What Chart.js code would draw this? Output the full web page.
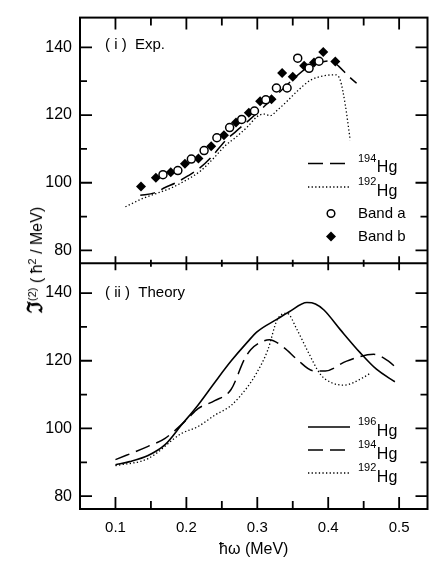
<!DOCTYPE html>
<html>
<head>
<meta charset="utf-8">
<script src="https://cdn.jsdelivr.net/npm/chart.js@4"></script>
<style>
  html, body { margin: 0; padding: 0; background: #fff; }
  #wrap { position: relative; width: 433px; height: 562px; }
  #ytitle {
    position: absolute; left: 34px; top: 260px;
    transform: translate(-50%, -50%) rotate(-90deg);
    white-space: nowrap; font: 16px "Liberation Sans", Arial, sans-serif; color: #000;
  }
  #ytitle .J { font-size: 21px; font-weight: bold; }
  #ytitle sup { font-size: 11px; }
</style>
</head>
<body>
<div id="wrap">
  <canvas id="chart" width="433" height="562"></canvas>
  <div id="ytitle"><span class="J">ℑ</span><sup>(2)</sup> ( ħ<sup>2</sup> / MeV)</div>
</div>
<script>
// ── Data ───────────────────────────────────────────────────────────────
const xTicks = [0.1, 0.2, 0.3, 0.4, 0.5];
const xMinorTicks = [0.15, 0.25, 0.35, 0.45];
const yTicks = [80, 100, 120, 140];
const yMinorTicks = [90, 110, 130];

// (i) Exp.
const expHg194 = [[0.135, 96.3], [0.155, 97.0], [0.17, 98.6], [0.186, 100.1], [0.202, 102.0],
  [0.219, 104.4], [0.237, 108.0], [0.254, 112.2], [0.27, 115.2], [0.29, 118.8], [0.31, 122.6],
  [0.33, 126.5], [0.35, 130.5], [0.37, 134.0], [0.385, 135.4], [0.403, 136.0], [0.415, 134.4],
  [0.427, 131.8], [0.44, 129.4]];
const expHg192 = [[0.114, 92.9], [0.139, 95.4], [0.16, 97.0], [0.18, 98.6], [0.20, 100.8],
  [0.22, 103.5], [0.24, 107.6], [0.254, 110.8], [0.27, 113.5], [0.286, 116.5], [0.30, 119.6],
  [0.31, 120.3], [0.318, 119.8], [0.328, 121.4], [0.342, 124.1], [0.356, 127.0], [0.375, 130.3],
  [0.394, 131.6], [0.41, 131.9], [0.417, 130.3], [0.424, 123.1], [0.431, 112.6]];
const bandA = [[0.167, 102.4], [0.188, 103.6], [0.207, 107.0], [0.225, 109.5], [0.243, 113.3],
  [0.261, 116.3], [0.278, 118.7], [0.296, 121.2], [0.312, 124.5], [0.327, 128.0], [0.342, 128.0],
  [0.357, 136.8], [0.373, 133.8], [0.387, 135.9]];
const bandB = [[0.136, 98.9], [0.157, 101.5], [0.178, 103.1], [0.198, 105.6], [0.217, 107.2],
  [0.235, 110.8], [0.253, 114.0], [0.270, 117.8], [0.288, 120.7], [0.304, 124.1], [0.320, 124.7],
  [0.335, 132.4], [0.350, 131.3], [0.366, 134.6], [0.380, 135.5], [0.393, 138.6], [0.410, 135.8]];

// (ii) Theory
const thHg196 = [[0.1, 89.3], [0.12, 90.2], [0.146, 92.0], [0.17, 95.2], [0.193, 101.0],
  [0.216, 106.8], [0.240, 113.6], [0.263, 119.9], [0.286, 125.5], [0.30, 128.6], [0.328, 132.3],
  [0.345, 134.5], [0.37, 137.2], [0.382, 136.8], [0.394, 135.0], [0.417, 129.2], [0.445, 122.4],
  [0.468, 117.5], [0.494, 113.8]];
const thHg194 = [[0.1, 90.8], [0.146, 94.7], [0.17, 97.1], [0.202, 102.9], [0.216, 105.8],
  [0.240, 108.2], [0.263, 111.5], [0.282, 120.5], [0.291, 123.3], [0.305, 125.5], [0.317, 126.2],
  [0.338, 123.8], [0.356, 120.4], [0.380, 117.0], [0.396, 117.0], [0.426, 119.9], [0.464, 121.9],
  [0.485, 119.9], [0.496, 117.9]];
const thHg192 = [[0.1, 89.0], [0.146, 91.1], [0.193, 98.5], [0.216, 100.5], [0.240, 103.9],
  [0.263, 106.8], [0.286, 112.2], [0.298, 116.0], [0.315, 123.3], [0.328, 132.1], [0.342, 134.0],
  [0.356, 129.2], [0.370, 123.3], [0.389, 116.0], [0.405, 113.5], [0.422, 112.8], [0.450, 115.1],
  [0.459, 116.3]];

const FONT = '"Liberation Sans", Arial, sans-serif';
const pts = arr => arr.map(([x, y]) => ({ x, y }));

const DASH = [15, 7];
const DOT = [1.3, 2.3];

function lineSet(arr, axis, dash, width) {
  return {
    data: pts(arr), yAxisID: axis, borderColor: '#000', borderWidth: width,
    borderDash: dash, pointRadius: 0, fill: false, cubicInterpolationMode: 'monotone',
  };
}

// ── Frame, inward ticks, panel labels, legends ─────────────────────────

function drawSupLabel(ctx, sup, base, x, y) {
  ctx.textAlign = 'left';
  ctx.textBaseline = 'alphabetic';
  ctx.font = '11px ' + FONT;
  ctx.fillText(sup, x, y - 2);
  const w = ctx.measureText(sup).width;
  ctx.font = '16px ' + FONT;
  ctx.fillText(base, x + w + 0.5, y + 8.5);
}

function legendLine(ctx, dash, width, y) {
  ctx.setLineDash(dash);
  ctx.lineWidth = width;
  ctx.beginPath(); ctx.moveTo(308, y); ctx.lineTo(350, y); ctx.stroke();
  ctx.setLineDash([]);
}

const framePlugin = {
  id: 'frame',
  afterDraw(chart) {
    const { ctx, chartArea: a, scales: { x, yTop, yBot } } = chart;
    ctx.save();
    ctx.strokeStyle = '#000';
    ctx.fillStyle = '#000';
    ctx.lineWidth = 2;
    ctx.strokeRect(a.left, a.top, a.right - a.left, a.bottom - a.top);
    const mid = yTop.bottom;
    ctx.beginPath(); ctx.moveTo(a.left, mid); ctx.lineTo(a.right, mid); ctx.stroke();

    ctx.lineWidth = 1.8;
    ctx.beginPath();
    // x ticks: top edge, bottom edge, and crossing the divider
    const xt = (v, len, half) => {
      const px = x.getPixelForValue(v);
      ctx.moveTo(px, a.top); ctx.lineTo(px, a.top + len);
      ctx.moveTo(px, a.bottom); ctx.lineTo(px, a.bottom - len);
      ctx.moveTo(px, mid - half); ctx.lineTo(px, mid + half);
    };
    xTicks.forEach(v => xt(v, 12, 7));
    xMinorTicks.forEach(v => xt(v, 8, 3.5));
    // y ticks on both sides of each panel
    [yTop, yBot].forEach(s => {
      const yt = (v, len) => {
        const py = s.getPixelForValue(v);
        ctx.moveTo(a.left, py); ctx.lineTo(a.left + len, py);
        ctx.moveTo(a.right, py); ctx.lineTo(a.right - len, py);
      };
      yTicks.forEach(v => yt(v, 12));
      yMinorTicks.forEach(v => yt(v, 7));
    });
    ctx.stroke();

    // panel labels
    ctx.font = '15px ' + FONT;
    ctx.textAlign = 'left';
    ctx.textBaseline = 'middle';
    ctx.fillText('( i )  Exp.', 105, 45);
    ctx.fillText('( ii )  Theory', 105, 293);

    // legend, panel (i)
    ctx.lineWidth = 1.5;
    legendLine(ctx, DASH, 1.5, 163.5);
    drawSupLabel(ctx, '194', 'Hg', 358, 163.5);
    legendLine(ctx, DOT, 1.3, 187);
    drawSupLabel(ctx, '192', 'Hg', 358, 187);

    ctx.lineWidth = 1.5;
    ctx.fillStyle = '#fff';
    ctx.beginPath(); ctx.arc(331, 213.5, 3.8, 0, Math.PI * 2); ctx.fill(); ctx.stroke();
    ctx.fillStyle = '#000';
    ctx.beginPath();
    ctx.moveTo(331, 231.5); ctx.lineTo(336, 236.5); ctx.lineTo(331, 241.5); ctx.lineTo(326, 236.5);
    ctx.closePath(); ctx.fill();
    ctx.font = '15px ' + FONT;
    ctx.textBaseline = 'middle';
    ctx.fillText('Band a', 358, 214);
    ctx.fillText('Band b', 358, 237);

    // legend, panel (ii)
    legendLine(ctx, [], 1.6, 427);
    drawSupLabel(ctx, '196', 'Hg', 358, 427);
    legendLine(ctx, DASH, 1.5, 450);
    drawSupLabel(ctx, '194', 'Hg', 358, 450);
    legendLine(ctx, DOT, 1.3, 473);
    drawSupLabel(ctx, '192', 'Hg', 358, 473);

    ctx.restore();
  },
};

// ── Chart ──────────────────────────────────────────────────────────────

const yScale = () => ({
  type: 'linear', position: 'left', stack: 'panels', stackWeight: 1,
  min: 76.2, max: 148.8,
  grid: { display: false, drawTicks: false }, border: { display: false },
  afterBuildTicks: s => { s.ticks = yTicks.map(v => ({ value: v })); },
  afterFit: s => { s.width = 80; },
  ticks: { color: '#000', font: { family: FONT, size: 16 }, padding: 8, callback: v => String(v) },
});

new Chart(document.getElementById('chart'), {
  type: 'line',
  data: {
    datasets: [
      { data: pts(bandA), yAxisID: 'yTop', showLine: false, pointStyle: 'circle', pointRadius: 4,
        pointBorderWidth: 1.5, pointBackgroundColor: '#fff', pointBorderColor: '#000' },
      { data: pts(bandB), yAxisID: 'yTop', showLine: false, pointStyle: 'rectRot', pointRadius: 5,
        pointBorderWidth: 0, pointBackgroundColor: '#000', pointBorderColor: '#000' },
      lineSet(expHg194, 'yTop', DASH, 1.5),
      lineSet(expHg192, 'yTop', DOT, 1.3),
      lineSet(thHg196, 'yBot', [], 1.6),
      lineSet(thHg194, 'yBot', DASH, 1.5),
      lineSet(thHg192, 'yBot', DOT, 1.3),
    ],
  },
  options: {
    responsive: false,
    animation: false,
    events: [],
    layout: { padding: { top: 8, right: 3, left: 0, bottom: 0 } },
    plugins: { legend: { display: false }, tooltip: { enabled: false } },
    scales: {
      x: {
        type: 'linear', min: 0.05, max: 0.54,
        grid: { display: false, drawTicks: false }, border: { display: false },
        afterBuildTicks: s => { s.ticks = xTicks.map(v => ({ value: v })); },
        afterFit: s => { s.height = 53; },
        ticks: { color: '#000', font: { family: FONT, size: 15 }, padding: 10, maxRotation: 0,
                 autoSkip: false, callback: v => v.toFixed(1) },
        title: { display: true, text: 'ħω (MeV)', color: '#000', font: { family: FONT, size: 16 },
                 padding: { top: 0, bottom: 3 } },
      },
      yBot: yScale(),
      yTop: yScale(),
    },
  },
  plugins: [framePlugin],
});
</script>
</body>
</html>
